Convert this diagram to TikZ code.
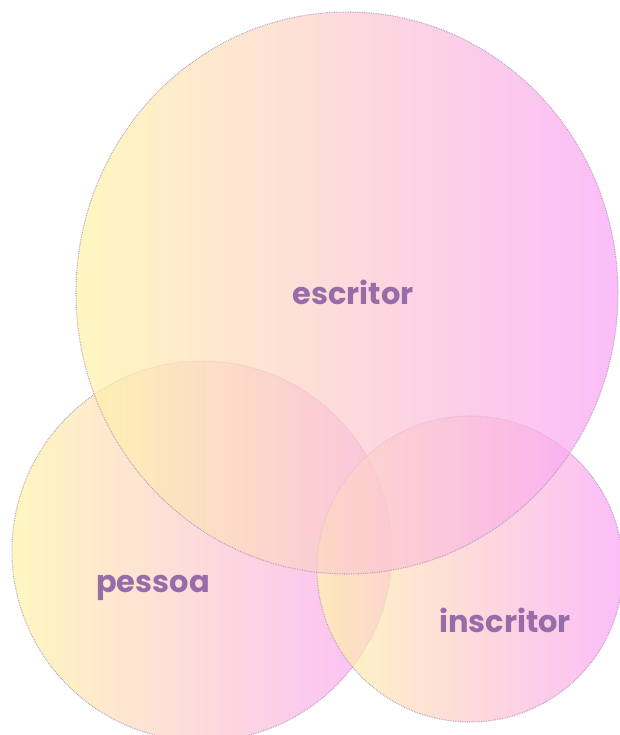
\documentclass[tikz,border=0pt]{standalone}
\usepackage{fontspec}
\setmainfont{Poppins}
\usepackage{xcolor}

\definecolor{setyellow}{RGB}{254,244,168}
\definecolor{setpink}{RGB}{250,164,246}
\definecolor{setline}{RGB}{170,148,182}
\definecolor{labeltext}{RGB}{152,108,168}

\begin{document}
\begin{tikzpicture}[
    x=0.03cm, y=-0.03cm,
    set/.style={left color=setyellow, right color=setpink, fill opacity=0.72,
      draw=setline, draw opacity=0.9, line width=0.9pt, dash pattern=on 0.6pt off 0.9pt},
    setlabel/.style={font=\bfseries\fontsize{26}{28}\selectfont, text=labeltext, inner sep=0pt}
  ]
    \useasboundingbox (0,0) rectangle (619,735);

    % the three sets
    \path[set] (202,551) circle [radius=190];
    \path[set] (470,569) circle [radius=153];
    \path[set] (347,293) ellipse [x radius=271, y radius=281];

    \node[setlabel] (escritor) at (353,292) {escritor};
    \node[setlabel] (pessoa) at (153,588) {pessoa};
    \node[setlabel] (inscritor) at (505,620) {inscritor};
  \end{tikzpicture}
\end{document}
